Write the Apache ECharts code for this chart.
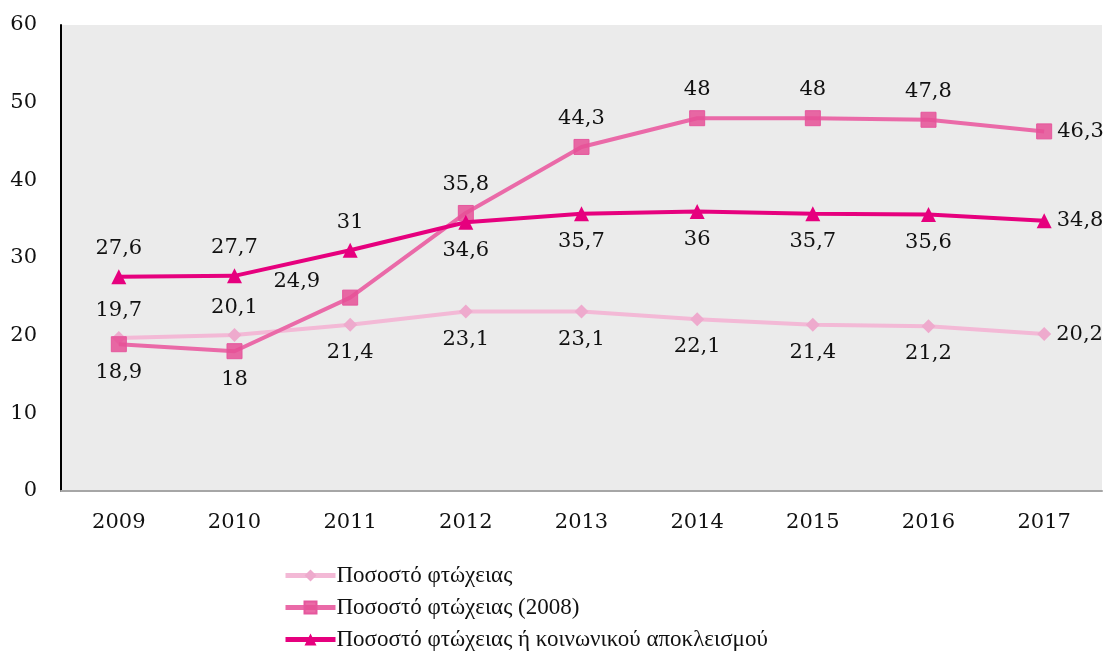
<!DOCTYPE html>
<html>
<head>
<meta charset="utf-8">
<script src="https://cdn.jsdelivr.net/npm/echarts@6/dist/echarts.min.js"></script>
<style>html,body{margin:0;padding:0;background:#fff}#c{width:1104px;height:654px}</style>
</head>
<body>
<div id="c"></div>
<script>
const years = ['2009','2010','2011','2012','2013','2014','2015','2016','2017'];
const seriesNames = ['Ποσοστό φτώχειας','Ποσοστό φτώχειας (2008)','Ποσοστό φτώχειας ή κοινωνικού αποκλεισμού'];
const povertyRate = [19.7, 20.1, 21.4, 23.1, 23.1, 22.1, 21.4, 21.2, 20.2];
const povertyRate2008 = [18.9, 18, 24.9, 35.8, 44.3, 48, 48, 47.8, 46.3];
const povertyExclusion = [27.6, 27.7, 31, 34.6, 35.7, 36, 35.7, 35.6, 34.8];
const yTicks = [0, 10, 20, 30, 40, 50, 60];

// label placement per point (style only)
const posLight = ['top','top','bottom','bottom','bottom','bottom','bottom','bottom','right'];
const posMid = ['bottom','bottom','leftTop','top','top','top','top','top','right'];
const posDark = ['top','top','top','bottom','bottom','bottom','bottom','bottom','right'];

const FONT = '"DejaVu Serif", "Liberation Serif", serif';
const fmt = v => String(v).replace('.', ',');

function mk(values, pos) {
  return values.map((v, i) => {
    let p = pos[i];
    const lab = {position: p};
    if (p === 'leftTop') { lab.position = 'left'; lab.offset = [-12, -16]; }
    if (p === 'right') { lab.distance = 5; }
    return {value: v, label: lab};
  });
}

const labelBase = {show: true, formatter: p => fmt(p.value), color: '#111', fontFamily: FONT, fontSize: 21, distance: 10};

const chart = echarts.init(document.getElementById('c'));
chart.setOption({
  animation: false,
  grid: {left: 61, right: 2, top: 25, bottom: 163, show: true, backgroundColor: '#ebebeb', borderWidth: 0},
  xAxis: {
    type: 'category', data: years, boundaryGap: true,
    axisLine: {lineStyle: {color: '#a6a6a6', width: 2}},
    axisTick: {show: false},
    axisLabel: {color: '#111', fontFamily: FONT, fontSize: 21, margin: 21}
  },
  yAxis: {
    type: 'value', min: yTicks[0], max: yTicks[yTicks.length-1], interval: 10,
    axisLine: {show: true, lineStyle: {color: '#000', width: 2}},
    axisTick: {show: false},
    splitLine: {show: false},
    axisLabel: {color: '#111', fontFamily: FONT, fontSize: 21, margin: 24}
  },
  legend: {
    orient: 'vertical', left: 283, top: 564, padding: 0, itemGap: 9, itemWidth: 50, itemHeight: 15,
    lineStyle: {width: 5},
    textStyle: {color: '#111', fontFamily: '"Liberation Serif", serif', fontSize: 23, padding: [0,0,0,-4]},
    data: seriesNames
  },
  series: [
    {
      name: seriesNames[0], type: 'line', data: mk(povertyRate, posLight),
      symbol: 'diamond', symbolSize: 14,
      lineStyle: {color: '#f3b9d6', width: 4},
      itemStyle: {color: '#eeaacd'},
      label: labelBase, z: 2
    },
    {
      name: seriesNames[1], type: 'line', data: mk(povertyRate2008, posMid),
      symbol: 'rect', symbolSize: 15,
      lineStyle: {color: '#ea6aa8', width: 4},
      itemStyle: {color: 'rgba(230,80,150,0.85)', borderColor: '#e5579d', borderWidth: 1},
      label: labelBase, z: 3
    },
    {
      name: seriesNames[2], type: 'line', data: mk(povertyExclusion, posDark),
      symbol: 'triangle', symbolSize: 15,
      lineStyle: {color: '#e6007e', width: 4},
      itemStyle: {color: '#e6007e'},
      label: labelBase, z: 4
    }
  ]
});
</script>
</body>
</html>
